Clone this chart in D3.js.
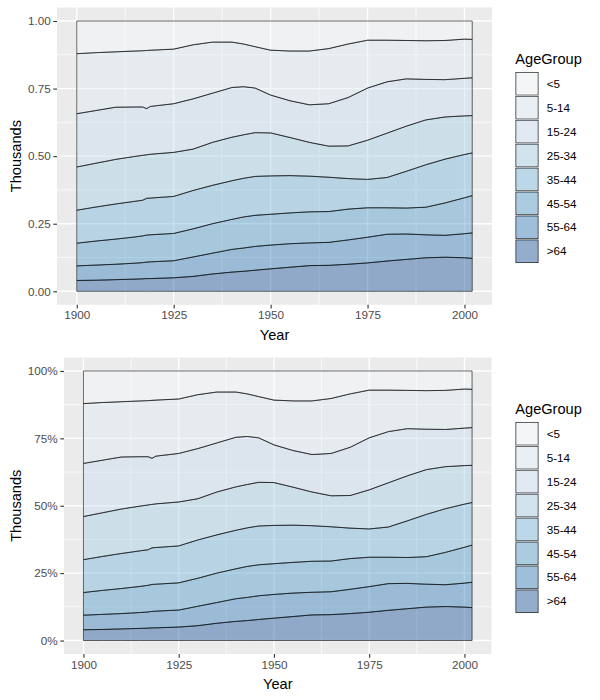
<!DOCTYPE html>
<html><head><meta charset="utf-8">
<script src="https://cdn.jsdelivr.net/npm/d3@7"></script>
<style>body{margin:0;background:#fff}svg{display:block;font-family:"Liberation Sans",Arial,sans-serif}</style>
</head><body><svg id="c" width="600" height="700"></svg>
<script>
const years = [1900,1905,1910,1915,1917,1918,1919,1925,1930,1935,1940,1943,1946,1950,1955,1960,1965,1970,1975,1980,1985,1990,1995,2000,2002];
const ageGroups = ["<5","5-14","15-24","25-34","35-44","45-54","55-64",">64"];
const pctUnder5 = [12.1,11.7,11.4,11.1,11.0,10.9,10.8,10.4,8.8,7.8,7.8,8.5,9.5,10.8,11.1,11.1,10.2,8.5,7.1,7.1,7.2,7.3,7.2,6.7,6.8];
const pct5to14  = [22.2,21.4,20.5,20.7,20.8,21.5,20.8,20.2,20.0,18.9,16.8,15.8,15.3,16.6,18.4,19.9,20.4,19.8,17.7,15.4,14.2,14.3,14.5,14.5,14.2];
const pct15to24 = [19.7,19.5,19.3,18.3,17.9,17.1,17.7,18.0,18.6,18.2,18.4,17.8,16.5,14.0,13.6,13.9,15.7,17.9,19.3,19.0,17.5,15.0,13.8,13.9,14.0];
const pct25to34 = [16.0,16.2,16.5,16.6,16.6,16.1,16.2,16.3,15.3,15.9,16.1,16.1,16.2,15.9,14.1,12.5,11.5,12.1,14.5,16.4,16.7,16.6,15.6,14.3,13.8];
const pct35to44 = [12.2,12.6,13.0,13.2,13.2,13.6,13.6,13.7,14.2,14.2,14.3,14.3,14.4,14.2,13.8,13.2,12.7,11.3,10.5,11.2,13.6,15.7,16.2,16.0,15.8];
const pct45to54 = [8.4,8.9,9.3,9.7,9.9,10.0,10.0,10.1,10.4,10.9,11.1,11.5,11.5,11.4,11.4,11.5,11.4,11.4,10.9,9.8,9.6,10.2,12.0,13.3,13.8];
const pct55to64 = [5.4,5.6,5.7,5.9,6.0,6.1,6.2,6.3,7.2,7.7,8.4,8.6,8.8,8.8,8.7,8.4,8.5,9.0,9.5,9.9,9.4,8.5,8.1,8.9,9.4];
const pctOver64 = [4.0,4.1,4.3,4.5,4.6,4.7,4.7,5.0,5.5,6.4,7.1,7.4,7.8,8.3,8.9,9.5,9.6,10.0,10.5,11.2,11.8,12.4,12.6,12.4,12.2];
const xTicks = [1900,1925,1950,1975,2000];
const yTicks = [0,0.25,0.5,0.75,1];
const yLabelsTop = ["0.00","0.25","0.50","0.75","1.00"];
const yLabelsBottom = ["0%","25%","50%","75%","100%"];
const blues = ["#F7FBFF","#DEEBF7","#C6DBEF","#9ECAE1","#6BAED6","#4292C6","#2171B5","#084594"];

const series = [pctUnder5,pct5to14,pct15to24,pct25to34,pct35to44,pct45to54,pct55to64,pctOver64];
const rows = years.map((y,i)=>{const r={Year:y}; ageGroups.forEach((g,k)=>r[g]=series[k][i]); return r;});
const stackKeys = ageGroups.slice().reverse();
const stacked = d3.stack().keys(stackKeys).offset(d3.stackOffsetExpand)(rows);
const color = d3.scaleOrdinal().domain(ageGroups).range(blues);

const svg = d3.select("#c");

function panel(p, yLabels, legendTop){
  const g = svg.append("g");
  const xr = [d3.min(years), d3.max(years)], xe = (xr[1]-xr[0])*0.05;
  const x = d3.scaleLinear().domain([xr[0]-xe, xr[1]+xe]).range([p.x0,p.x1]);
  const y = d3.scaleLinear().domain([-0.05,1.05]).range([p.y1,p.y0]);
  g.append("rect").attr("x",p.x0).attr("y",p.y0).attr("width",p.x1-p.x0).attr("height",p.y1-p.y0).attr("fill","#EBEBEB");
  const minorX = [1912.5,1937.5,1962.5,1987.5], minorY=[0.125,0.375,0.625,0.875];
  minorX.forEach(v=>g.append("line").attr("x1",x(v)).attr("x2",x(v)).attr("y1",p.y0).attr("y2",p.y1).attr("stroke","#fff").attr("stroke-width",0.7));
  minorY.forEach(v=>g.append("line").attr("y1",y(v)).attr("y2",y(v)).attr("x1",p.x0).attr("x2",p.x1).attr("stroke","#fff").attr("stroke-width",0.7));
  xTicks.forEach(v=>g.append("line").attr("x1",x(v)).attr("x2",x(v)).attr("y1",p.y0).attr("y2",p.y1).attr("stroke","#fff").attr("stroke-width",1.4));
  yTicks.forEach(v=>g.append("line").attr("y1",y(v)).attr("y2",y(v)).attr("x1",p.x0).attr("x2",p.x1).attr("stroke","#fff").attr("stroke-width",1.4));
  const area = d3.area().x(d=>x(d.data.Year)).y0(d=>y(d[0])).y1(d=>y(d[1]));
  g.selectAll("path.a").data(stacked).join("path").attr("class","a")
    .attr("d",area).attr("fill",d=>color(d.key)).attr("fill-opacity",0.4)
    .attr("stroke","#000").attr("stroke-width",0.6).attr("stroke-linejoin","round");
  const xa = g.append("g").attr("transform",`translate(0,${p.y1})`)
    .call(d3.axisBottom(x).tickValues(xTicks).tickFormat(d3.format("d")).tickSize(3.7).tickPadding(2.6));
  const ya = g.append("g").attr("transform",`translate(${p.x0},0)`)
    .call(d3.axisLeft(y).tickValues(yTicks).tickFormat((d,i)=>yLabels[i]).tickSize(3.7).tickPadding(2.6));
  [xa,ya].forEach(a=>{a.select(".domain").remove();
    a.selectAll(".tick line").attr("stroke","#333").attr("stroke-width",1.1);
    a.selectAll(".tick text").attr("fill","#4D4D4D").style("font-size","11.7px").style("font-family","Liberation Sans, Arial, sans-serif");});
  g.append("text").attr("x",(p.x0+p.x1)/2).attr("y",p.y1+35).attr("text-anchor","middle")
    .style("font-size","14.6px").attr("fill","#000").text("Year");
  g.append("text").attr("transform",`translate(20.5,${(p.y0+p.y1)/2}) rotate(-90)`).attr("text-anchor","middle")
    .style("font-size","14.6px").attr("fill","#000").text("Thousands");
  // legend
  const lx = 515.3, ly = legendTop, ks = 23.95;
  g.append("text").attr("x",lx).attr("y",ly-7.6).style("font-size","14.6px").attr("fill","#000").text("AgeGroup");
  ageGroups.forEach((a,i)=>{
    const yy = ly + i*ks;
    g.append("rect").attr("x",lx).attr("y",yy).attr("width",23.4).attr("height",ks).attr("fill","#F2F2F2");
    g.append("rect").attr("x",lx+0.6).attr("y",yy+0.6).attr("width",22.2).attr("height",ks-1.2)
      .attr("fill",color(a)).attr("fill-opacity",0.4).attr("stroke","#000").attr("stroke-width",0.6);
    g.append("text").attr("x",546.7).attr("y",yy+ks/2+4.1).style("font-size","11.7px").attr("fill","#000").text(a);
  });
}
panel({x0:57,x1:492,y0:7.5,y1:304.8}, yLabelsTop, 71.7);
panel({x0:64,x1:491.5,y0:357.5,y1:654}, yLabelsBottom, 421.7);
</script></body></html>
